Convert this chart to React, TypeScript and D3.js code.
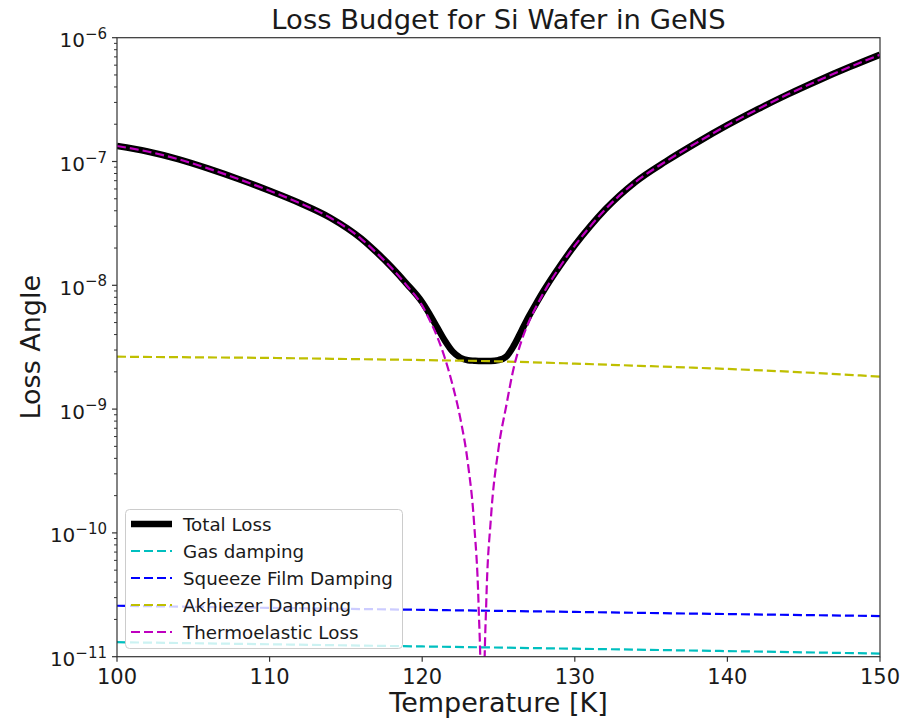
import React from "react";
import * as d3 from "d3";

// Temperature grid (K) for the thermoelastic and total-loss curves
const temps = [
  100, 102, 104, 106, 108, 110, 112, 114, 116, 117, 118, 119, 120, 120.5, 121,
  121.5, 122, 122.5, 123, 123.4, 123.7, 123.85, 123.95, 124.05, 124.2, 124.5,
  125, 125.5, 126, 126.5, 127, 127.5, 128, 129, 130, 131, 132, 134, 136, 138,
  140, 142, 144, 146, 148, 150,
];

const thermoelastic = [
  1.334e-7, 1.204e-7, 1.046e-7, 8.76e-8, 7.19e-8, 5.8e-8, 4.6e-8, 3.5e-8,
  2.375e-8, 1.834e-8, 1.378e-8, 9.93e-9, 6.85e-9, 5.2e-9, 3.8e-9, 2.55e-9,
  1.55e-9, 8.4e-10, 3.6e-10, 1.2e-10, 2.5e-11, 4.5e-12, 2e-13, 4.5e-12,
  2.8e-11, 1.3e-10, 4.8e-10, 1.05e-9, 2.16e-9, 3.53e-9, 5.1e-9, 6.83e-9,
  8.88e-9, 1.398e-8, 2.091e-8, 2.98e-8, 4.1e-8, 6.87e-8, 1.007e-7, 1.421e-7,
  1.964e-7, 2.651e-7, 3.502e-7, 4.536e-7, 5.787e-7, 7.29e-7,
];

const totalLoss = [
  1.334e-7, 1.204e-7, 1.046e-7, 8.76e-8, 7.19e-8, 5.8e-8, 4.6e-8, 3.5e-8,
  2.388e-8, 1.851e-8, 1.4e-8, 1.024e-8, 7.29e-9, 5.8e-9, 4.53e-9, 3.55e-9,
  2.91e-9, 2.6e-9, 2.48e-9, 2.46e-9, 2.45e-9, 2.45e-9, 2.45e-9, 2.45e-9,
  2.45e-9, 2.45e-9, 2.49e-9, 2.65e-9, 3.25e-9, 4.28e-9, 5.64e-9, 7.24e-9,
  9.2e-9, 1.418e-8, 2.104e-8, 2.99e-8, 4.11e-8, 6.87e-8, 1.007e-7, 1.421e-7,
  1.964e-7, 2.651e-7, 3.502e-7, 4.536e-7, 5.787e-7, 7.29e-7,
];

// Akhiezer damping
const akhiezerTemps = [100, 105, 110, 115, 120, 125, 130, 135, 140, 145, 150];
const akhiezer = [
  2.65e-9, 2.62e-9, 2.59e-9, 2.54e-9, 2.49e-9, 2.43e-9, 2.33e-9, 2.22e-9,
  2.11e-9, 1.98e-9, 1.83e-9,
];

// Gas and squeeze-film damping
const dampTemps = [100, 110, 120, 130, 140, 150];
const squeezeFilm = [2.58e-11, 2.48e-11, 2.39e-11, 2.3e-11, 2.21e-11, 2.13e-11];
const gasDamping = [1.31e-11, 1.26e-11, 1.21e-11, 1.16e-11, 1.11e-11, 1.06e-11];

const xTicks = [100, 110, 120, 130, 140, 150];
const yExponents = [-11, -10, -9, -8, -7, -6];

const W = 902;
const H = 719;
const plot = { left: 117, right: 880, top: 37.7, bottom: 656.7 };
const FONT = "DejaVu Sans, Verdana, sans-serif";
const TEXT = "#1a1a1a";
const DASH = "9,4";

type Pt = [number, number];
const zip = (xs: number[], ys: number[]): Pt[] => xs.map((t, i) => [t, ys[i]]);

export default function App() {
  const x = d3.scaleLinear().domain([100, 150]).range([plot.left, plot.right]);
  const y = d3.scaleLog().domain([1e-11, 1e-6]).range([plot.bottom, plot.top]);

  const line = d3
    .line<Pt>()
    .x((d) => x(d[0]))
    .y((d) => y(d[1]))
    .curve(d3.curveMonotoneX);

  const series = [
    { name: "Total Loss", data: zip(temps, totalLoss), color: "#000000", width: 6.5, dash: undefined as string | undefined },
    { name: "Gas damping", data: zip(dampTemps, gasDamping), color: "#00bfbf", width: 2.2, dash: DASH },
    { name: "Squeeze Film Damping", data: zip(dampTemps, squeezeFilm), color: "#0000ff", width: 2.2, dash: DASH },
    { name: "Akhiezer Damping", data: zip(akhiezerTemps, akhiezer), color: "#bfbf00", width: 2.2, dash: DASH },
    { name: "Thermoelastic Loss", data: zip(temps, thermoelastic), color: "#bf00bf", width: 2.2, dash: DASH },
  ];

  const minorTicks = y
    .ticks()
    .filter((v) => Math.abs(Math.log10(v) - Math.round(Math.log10(v))) > 1e-6);

  const legend = { x: 125.5, y: 509.5, w: 277, h: 139, row0: 524, rowGap: 27 };

  return (
    <svg
      width={W}
      height={H}
      style={{ position: "absolute", left: 0, top: 0, background: "#fff" }}
      fontFamily={FONT}
    >
      <defs>
        <clipPath id="plot-area">
          <rect x={plot.left} y={plot.top} width={plot.right - plot.left} height={plot.bottom - plot.top} />
        </clipPath>
      </defs>

      <g clipPath="url(#plot-area)">
        {series.map((s) => (
          <path
            key={s.name}
            d={line(s.data) || ""}
            fill="none"
            stroke={s.color}
            strokeWidth={s.width}
            strokeDasharray={s.dash}
            strokeLinejoin="round"
          />
        ))}
      </g>

      {/* frame */}
      <rect
        x={plot.left}
        y={plot.top}
        width={plot.right - plot.left}
        height={plot.bottom - plot.top}
        fill="none"
        stroke="#333"
        strokeWidth={1.2}
      />

      {/* x axis */}
      {xTicks.map((t) => (
        <g key={t}>
          <line x1={x(t)} x2={x(t)} y1={plot.bottom} y2={plot.bottom + 5} stroke="#333" strokeWidth={1.2} />
          <text x={x(t)} y={plot.bottom + 27} textAnchor="middle" fontSize={21} fill={TEXT}>
            {t}
          </text>
        </g>
      ))}

      {/* y axis */}
      {minorTicks.map((v) => (
        <line key={v} x1={plot.left - 3} x2={plot.left} y1={y(v)} y2={y(v)} stroke="#333" strokeWidth={1} />
      ))}
      {yExponents.map((e) => {
        const py = y(Math.pow(10, e));
        return (
          <g key={e}>
            <line x1={plot.left - 5} x2={plot.left} y1={py} y2={py} stroke="#333" strokeWidth={1.2} />
            <text x={107} y={py + 9.5} textAnchor="end" fontSize={20} fill={TEXT}>
              10
              <tspan fontSize={15} dy={-8.5}>
                {"\u2212" + Math.abs(e)}
              </tspan>
            </text>
          </g>
        );
      })}

      {/* title and axis labels */}
      <text x={(plot.left + plot.right) / 2} y={29} textAnchor="middle" fontSize={27.4} fill={TEXT}>
        Loss Budget for Si Wafer in GeNS
      </text>
      <text x={(plot.left + plot.right) / 2} y={712} textAnchor="middle" fontSize={27} fill={TEXT}>
        Temperature [K]
      </text>
      <text
        transform={`translate(40, ${(plot.top + plot.bottom) / 2}) rotate(-90)`}
        textAnchor="middle"
        fontSize={27}
        fill={TEXT}
      >
        Loss Angle
      </text>

      {/* legend */}
      <g>
        <rect
          x={legend.x}
          y={legend.y}
          width={legend.w}
          height={legend.h}
          rx={4}
          fill="#ffffff"
          fillOpacity={0.8}
          stroke="#cccccc"
          strokeWidth={1}
        />
        {series.map((s, i) => {
          const ry = legend.row0 + i * legend.rowGap;
          return (
            <g key={s.name}>
              <line
                x1={131}
                x2={172}
                y1={ry}
                y2={ry}
                stroke={s.color}
                strokeWidth={s.width}
                strokeDasharray={s.dash}
              />
              <text x={183} y={ry + 6.5} fontSize={18.3} fill={TEXT}>
                {s.name}
              </text>
            </g>
          );
        })}
      </g>
    </svg>
  );
}
